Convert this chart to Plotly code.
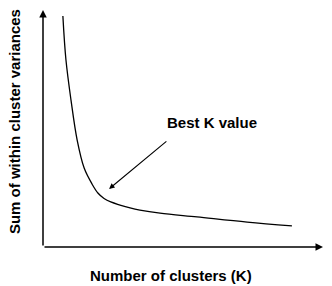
import plotly.graph_objects as go

# Conceptual elbow curve (K vs sum of within-cluster variances)
k_values = [0.71, 0.82, 1.0, 1.22, 1.47, 1.75, 1.96, 2.18, 2.42, 2.75, 3.11, 3.46, 4.18, 5.5, 7.29, 8.89]
variances = [97.5, 78.9, 62.0, 45.1, 33.3, 26.6, 22.8, 20.5, 19.0, 17.7, 16.5, 15.6, 14.3, 12.7, 10.5, 8.9]

best_k_point = (2.36, 24.5)
best_k_label = "Best K value"
x_title = "Number of clusters (K)"
y_title = "Sum of within cluster variances"

font_family = "Liberation Sans, Arial, sans-serif"
font_size = 15

fig = go.Figure()
fig.add_trace(go.Scatter(
    x=k_values, y=variances, mode="lines",
    line=dict(color="black", width=1.3, shape="spline", smoothing=1.0),
    hoverinfo="skip", showlegend=False,
))

annotations = [
    # y axis with arrow
    dict(x=0, y=1, xref="paper", yref="paper", ax=0, ay=237, axref="pixel", ayref="pixel",
         text="", showarrow=True, arrowhead=2, arrowsize=1, arrowwidth=1.5, arrowcolor="black"),
    # x axis with arrow
    dict(x=1, y=0, xref="paper", yref="paper", ax=-280, ay=0, axref="pixel", ayref="pixel",
         text="", showarrow=True, arrowhead=2, arrowsize=1, arrowwidth=1.5, arrowcolor="black"),
    # Best K arrow
    dict(x=best_k_point[0], y=best_k_point[1], xref="x", yref="y",
         ax=4.46, ay=45.1, axref="x", ayref="y",
         text="", showarrow=True, arrowhead=2, arrowsize=1, arrowwidth=1.1, arrowcolor="black"),
    # Best K label
    dict(x=6.04, y=52.7, xref="x", yref="y", text="<b>" + best_k_label + "</b>",
         showarrow=False, font=dict(family=font_family, size=font_size, color="black"),
         xanchor="center", yanchor="middle"),
    # x title
    dict(x=4.57, y=0, xref="x", yref="paper", yshift=-28, text="<b>" + x_title + "</b>",
         showarrow=False, font=dict(family=font_family, size=font_size, color="black"),
         xanchor="center", yanchor="middle"),
    # y title
    dict(x=0, y=52.7, xref="paper", yref="y", xshift=-29, text="<b>" + y_title + "</b>",
         showarrow=False, textangle=-90, font=dict(family=font_family, size=font_size, color="black"),
         xanchor="center", yanchor="middle"),
]

fig.update_layout(
    width=332, height=286,
    margin=dict(l=43, r=9, t=10, b=39, pad=0),
    paper_bgcolor="white", plot_bgcolor="white",
    xaxis=dict(range=[0, 10], visible=False, fixedrange=True),
    yaxis=dict(range=[0, 100], visible=False, fixedrange=True),
    annotations=annotations,
    showlegend=False,
)

fig.write_html("out.html", config={"displayModeBar": False})
